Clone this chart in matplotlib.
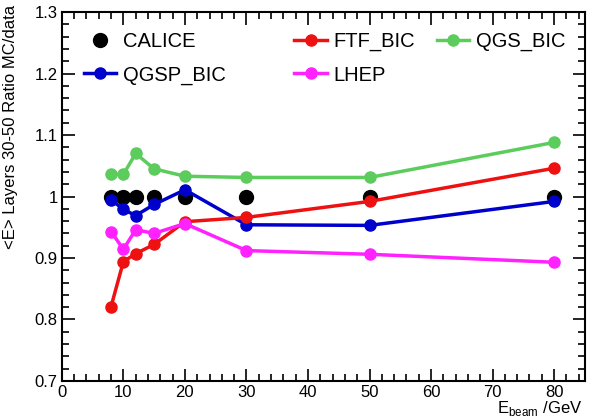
import numpy as np
import matplotlib.pyplot as plt
from matplotlib.ticker import MultipleLocator

plt.rcParams["font.family"] = ["Liberation Sans", "DejaVu Sans"]
plt.rcParams["mathtext.fontset"] = "custom"
plt.rcParams["mathtext.rm"] = "Liberation Sans"

energy = [8, 10, 12, 15, 20, 30, 50, 80]
calice = [1.0, 1.0, 1.0, 1.0, 1.0, 1.0, 1.0, 1.0]
qgsp_bic = [0.995, 0.979, 0.969, 0.987, 1.011, 0.954, 0.953, 0.992]
ftf_bic = [0.821, 0.894, 0.907, 0.922, 0.959, 0.966, 0.992, 1.046]
lhep = [0.943, 0.914, 0.946, 0.940, 0.956, 0.912, 0.906, 0.893]
qgs_bic = [1.036, 1.036, 1.070, 1.045, 1.033, 1.031, 1.031, 1.088]

fig = plt.figure(figsize=(5.89, 4.19), dpi=100)
ax = fig.add_axes([0.105, 0.091, 0.888, 0.880])

h_cal, = ax.plot(energy, calice, "o", color="black", ms=10, label="CALICE", zorder=2)
h_qgsp, = ax.plot(energy, qgsp_bic, "o-", color="#0000cc", ms=8, lw=2.5, label="QGSP_BIC", zorder=3)
h_ftf, = ax.plot(energy, ftf_bic, "o-", color="#ee1111", ms=8, lw=2.5, label="FTF_BIC", zorder=3)
h_lhep, = ax.plot(energy, lhep, "o-", color="#ff22ff", ms=8, lw=2.5, label="LHEP", zorder=3)
h_qgs, = ax.plot(energy, qgs_bic, "o-", color="#5ccc5c", ms=8, lw=2.5, label="QGS_BIC", zorder=3)

ax.set_xlim(0, 85)
ax.set_ylim(0.7, 1.3)
ax.xaxis.set_major_locator(MultipleLocator(10))
ax.xaxis.set_minor_locator(MultipleLocator(2))
ax.yaxis.set_minor_locator(MultipleLocator(0.02))
ax.set_yticks([0.7, 0.8, 0.9, 1.0, 1.1, 1.2, 1.3])
ax.set_yticklabels(["0.7", "0.8", "0.9", "1", "1.1", "1.2", "1.3"])
ax.tick_params(which="both", direction="in", top=True, right=True, labelsize=12, pad=3)
ax.tick_params(which="major", length=9, width=1.2)
ax.tick_params(which="minor", length=5, width=1.2)
for s in ax.spines.values():
    s.set_linewidth(1.5)

ax.set_ylabel("<E> Layers 30-50 Ratio MC/data", fontsize=12)
ax.yaxis.set_label_coords(-0.083, 0.69)
ax.set_xlabel(r"E$_{\mathrm{beam}}$ /GeV", fontsize=12)
ax.xaxis.set_label_coords(0.995, -0.088)
ax.xaxis.label.set_horizontalalignment("right")
ax.xaxis.label.set_verticalalignment("baseline")

leg_kw = dict(frameon=False, fontsize=14.5, loc="upper left", handlelength=1.6,
              handletextpad=0.35, labelspacing=0.72, borderaxespad=0.3)
leg1 = ax.legend([h_cal, h_qgsp, h_ftf, h_lhep], ["CALICE", "QGSP_BIC", "FTF_BIC", "LHEP"],
                 ncol=2, columnspacing=3.4, bbox_to_anchor=(0.015, 0.985), **leg_kw)
ax.add_artist(leg1)
ax.legend([h_qgs], ["QGS_BIC"], bbox_to_anchor=(0.69, 0.985), **leg_kw)

fig.savefig("out.png", dpi=100)
